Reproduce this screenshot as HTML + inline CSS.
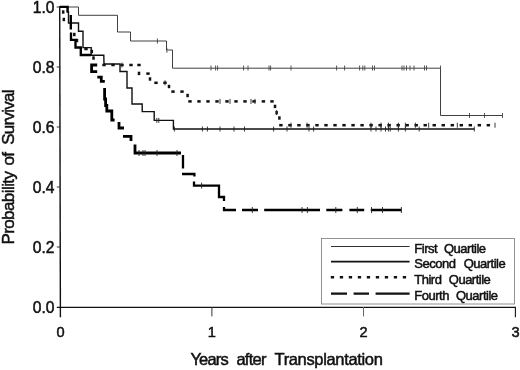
<!DOCTYPE html>
<html><head><meta charset="utf-8"><title>Probability of Survival by Quartile</title>
<style>html,body{margin:0;padding:0;background:#fff;}svg{display:block;}</style>
</head><body>
<svg width="520" height="370" viewBox="0 0 520 370">
<rect width="520" height="370" fill="#fff"/>
<g stroke="#111" fill="none">
<path d="M59.7,6L60.4,317.2" stroke-width="1.4"/>
<path d="M56.8,307.3H515.9" stroke-width="1.3"/>
<path d="M56.6,7H60 M56.7,67H60 M56.8,127H60 M56.8,187H60 M56.8,247H60" stroke-width="1" stroke="#333"/>
<path d="M211.9,307V316.4" stroke-width="1" stroke="#333"/><path d="M363.5,307V316.4" stroke-width="1" stroke="#666"/><path d="M515.4,307V317.2" stroke-width="1.1" stroke="#111"/>
</g>
<rect x="321.5" y="238.4" width="193.1" height="65.6" fill="#fff" stroke="#777" stroke-width="0.8"/>
<g stroke="#111" fill="none">
<path d="M331,246.5H409.6" stroke-width="1" stroke="#333"/>
<path d="M331,261.7H409.6" stroke-width="1.75"/>
<path d="M330.8,277.2H409" stroke-width="2.4" stroke-dasharray="3.3 5.7"/>
<path d="M331,293.5H347 M353.6,293.5H369 M375.6,293.5H409.6" stroke-width="2.25"/>
</g>
<path d="M60,7 L78.5,7 L78.5,15.3 L117.5,15.3 L117.5,32 L130.5,32 L130.5,41 L166.5,41 L166.5,50 L172.5,50 L172.5,68.2 L440.5,68.2 L440.5,115.5 L502.5,115.5" fill="none" stroke="#2a2a2a" stroke-width="0.9"/>
<path d="M157.4,38.5V43.5 M166.9,47.8V52.8 M211,65.5V70.5 M215.6,65.5V70.5 M217.6,65.5V70.5 M243.6,65.5V70.5 M248,65.5V70.5 M269,65.5V70.5 M270.6,65.5V70.5 M291,65.5V70.5 M336.6,65.5V70.5 M344.6,65.5V70.5 M359.6,65.5V70.5 M362.8,65.5V70.5 M364.8,65.5V70.5 M372.5,65.5V70.5 M374.5,65.5V70.5 M402,65.5V70.5 M404,65.5V70.5 M406.5,65.5V70.5 M410,65.5V70.5 M414,65.5V70.5 M424.5,65.5V70.5 M426.5,65.5V70.5 M440.5,65.5V70.5 M469.5,113V118 M484.5,113V118 M502.5,113V118" fill="none" stroke="#444" stroke-width="0.9"/>
<path d="M60,6.8 L67.5,6.8 L67.5,12 L68.5,12 L68.5,23 L78.5,23 L78.5,31.2 L83,31.2 L83,47.6 L91.2,47.6 L91.2,55.2 L103.8,55.2 L104,64 L120,64 L120,71.5 L127,71.5 L127,88 L132,88 L132,104 L142.2,104 L142.2,111.6 L154.2,111.6 L154.2,120.4 L173.4,120.4 L173.4,129 L474.3,129" fill="none" stroke="#111" stroke-width="1.4"/>
<path d="M156.8,117.9V122.9 M158.8,117.9V122.9 M174.4,126.5V131.5 M202.4,126.5V131.5 M207.4,126.5V131.5 M220,126.5V131.5 M234,126.5V131.5 M244.5,126.5V131.5 M273.6,126.5V131.5 M287,126.5V131.5 M309,126.5V131.5 M313.6,126.5V131.5 M371,126.5V131.5 M376,126.5V131.5 M381,126.5V131.5 M385.5,126.5V131.5 M388.4,126.5V131.5 M390.2,126.5V131.5 M398.4,126.5V131.5 M405.4,126.5V131.5 M419.2,126.5V131.5 M474.3,126.5V131.5" fill="none" stroke="#222" stroke-width="0.9"/>
<g fill="#111">
<rect x="61.95" y="10.3" width="2.5" height="3.4"/>
<rect x="62.55" y="17.8" width="2.5" height="3.4"/>
<rect x="73.05" y="32.8" width="2.5" height="3.4"/>
<rect x="75.75" y="38.8" width="2.5" height="3.4"/>
<rect x="84.3" y="47.75" width="3.4" height="2.5"/>
<rect x="90.55" y="49.8" width="2.5" height="3.4"/>
<rect x="92.25" y="56.3" width="2.5" height="3.4"/>
<rect x="102.3" y="63.75" width="3.4" height="2.5"/>
<rect x="111.3" y="63.75" width="3.4" height="2.5"/>
<rect x="120.3" y="63.75" width="3.4" height="2.5"/>
<rect x="129.3" y="63.75" width="3.4" height="2.5"/>
<rect x="137.3" y="63.75" width="3.4" height="2.5"/>
<rect x="137.75" y="71.7" width="2.5" height="3.4"/>
<rect x="146.3" y="72.35" width="3.4" height="2.5"/>
<rect x="148.75" y="77.3" width="2.5" height="3.4"/>
<rect x="154.3" y="81.55" width="3.4" height="2.5"/>
<rect x="163.3" y="81.55" width="3.4" height="2.5"/>
<rect x="167.75" y="84.8" width="2.5" height="3.4"/>
<rect x="171.3" y="90.35" width="3.4" height="2.5"/>
<rect x="180.3" y="90.35" width="3.4" height="2.5"/>
<rect x="186.35" y="93.8" width="2.5" height="3.4"/>
<rect x="188.3" y="100.15" width="3.4" height="2.5"/>
<rect x="197.3" y="100.15" width="3.4" height="2.5"/>
<rect x="206.3" y="100.15" width="3.4" height="2.5"/>
<rect x="215.3" y="100.15" width="3.4" height="2.5"/>
<rect x="225.3" y="100.15" width="3.4" height="2.5"/>
<rect x="234.3" y="100.15" width="3.4" height="2.5"/>
<rect x="243.3" y="100.15" width="3.4" height="2.5"/>
<rect x="252.3" y="100.15" width="3.4" height="2.5"/>
<rect x="261.7" y="100.15" width="3.4" height="2.5"/>
<rect x="270.3" y="100.15" width="3.4" height="2.5"/>
<rect x="273.75" y="104.7" width="2.5" height="3.4"/>
<rect x="275.35" y="110.9" width="2.5" height="3.4"/>
<rect x="278.15" y="116.3" width="2.5" height="3.4"/>
<rect x="279.2" y="123.95" width="3.4" height="2.5"/>
<rect x="288.22" y="123.95" width="3.4" height="2.5"/>
<rect x="297.24" y="123.95" width="3.4" height="2.5"/>
<rect x="306.26" y="123.95" width="3.4" height="2.5"/>
<rect x="315.28" y="123.95" width="3.4" height="2.5"/>
<rect x="324.3" y="123.95" width="3.4" height="2.5"/>
<rect x="333.32" y="123.95" width="3.4" height="2.5"/>
<rect x="342.34" y="123.95" width="3.4" height="2.5"/>
<rect x="351.36" y="123.95" width="3.4" height="2.5"/>
<rect x="360.38" y="123.95" width="3.4" height="2.5"/>
<rect x="369.4" y="123.95" width="3.4" height="2.5"/>
<rect x="378.42" y="123.95" width="3.4" height="2.5"/>
<rect x="387.44" y="123.95" width="3.4" height="2.5"/>
<rect x="396.46" y="123.95" width="3.4" height="2.5"/>
<rect x="405.48" y="123.95" width="3.4" height="2.5"/>
<rect x="414.5" y="123.95" width="3.4" height="2.5"/>
<rect x="423.52" y="123.95" width="3.4" height="2.5"/>
<rect x="432.54" y="123.95" width="3.4" height="2.5"/>
<rect x="441.56" y="123.95" width="3.4" height="2.5"/>
<rect x="450.58" y="123.95" width="3.4" height="2.5"/>
<rect x="459.6" y="123.95" width="3.4" height="2.5"/>
<rect x="468.62" y="123.95" width="3.4" height="2.5"/>
<rect x="477.64" y="123.95" width="3.4" height="2.5"/>
<rect x="486.66" y="123.95" width="3.4" height="2.5"/>
</g>
<path d="M122,62.5V67.5 M165,80.3V85.3 M220,98.9V103.9 M230,98.9V103.9 M251,98.9V103.9 M255,98.9V103.9 M276.6,110.1V115.1 M291,122.7V127.7 M307,122.7V127.7 M371,122.7V127.7 M381,122.7V127.7 M388.4,122.7V127.7 M398.4,122.7V127.7 M405.4,122.7V127.7 M415.4,122.7V127.7 M428.7,122.7V127.7 M457.3,122.7V127.7 M495,122.7V127.7" fill="none" stroke="#222" stroke-width="0.9"/>
<path d="M60,6.8 L67.6,6.8 L67.6,12.5 M70.8,15 L70.8,29.5 M71,32.5 L71,39.8 L75.5,39.8 L75.5,47.5 L80.8,47.5 L80.8,55 L91,55" fill="none" stroke="#000" stroke-width="2.35" stroke-linejoin="miter"/>
<path d="M97.2,65 L91.6,65 L91.6,71.6 L97.2,71.6 M97.3,77.2 L101.3,77.2 L101.3,81.4 L104.8,81.4 M104.6,88 L104.6,99 L105.6,99 L105.6,105.5 L106.8,105.5 L106.8,111 L111.8,111 L111.8,120 L114.6,120 M119,122 L119,128 L124,128 M123,136.4 L131,136.4 L131,141 M135,144.4 L135,153 L181,153" fill="none" stroke="#000" stroke-width="2.8" stroke-linejoin="miter"/>
<path d="M183,155 L183,168.5 M182,174 L194.4,174 L194.4,176.5 M194,181.6 L194,185.6 L219,185.6 L219,197 L224,197 L224,201 M224,207 L224,210 L236,210 M242,210 L258,210 M264.2,210 L320,210 M326.3,210 L342.4,210 M349.4,210 L364.2,210 M370.8,210 L401.4,210" fill="none" stroke="#000" stroke-width="2.3" stroke-linejoin="miter"/>
<path d="M139,150V156 M143,150V156 M145,150V156 M157,150V156 M177,150V156 M201.6,182.6V188.6 M252.3,207V213 M302,207V213 M307.4,207V213 M335.8,207V213 M357.3,207V213 M371.5,207V213 M382.5,207V213 M401.4,207V213" fill="none" stroke="#222" stroke-width="0.9"/>
<g font-family="'Liberation Sans', sans-serif" fill="#111" stroke="#111" stroke-width="0.5">
<text id="y1.0" x="54.5" y="13.4" font-size="15.6" text-anchor="end">1.0</text>
<text id="y0.8" x="54.5" y="73.4" font-size="15.6" text-anchor="end">0.8</text>
<text id="y0.6" x="54.5" y="133.4" font-size="15.6" text-anchor="end">0.6</text>
<text id="y0.4" x="54.5" y="193.4" font-size="15.6" text-anchor="end">0.4</text>
<text id="y0.2" x="54.5" y="253.4" font-size="15.6" text-anchor="end">0.2</text>
<text id="y0.0" x="54.5" y="313.4" font-size="15.6" text-anchor="end">0.0</text>
<text id="x0" x="60.5" y="336.6" font-size="14.6" text-anchor="middle">0</text>
<text id="x1" x="211.8" y="336.6" font-size="14.6" text-anchor="middle">1</text>
<text id="x2" x="363.5" y="336.6" font-size="14.6" text-anchor="middle">2</text>
<text id="x3" x="515.6" y="336.6" font-size="14.6" text-anchor="middle">3</text>
<text id="xl0" x="190.4" y="365.2" font-size="16.5" letter-spacing="-0.8">Years</text>
<text id="xl1" x="236.4" y="365.2" font-size="16.5" letter-spacing="-0.72">after</text>
<text id="xl2" x="274.5" y="365.2" font-size="16.5" letter-spacing="-0.34">Transplantation</text>
<text id="yl0" transform="translate(14.1,244.6) rotate(-90)" font-size="17" letter-spacing="-0.58">Probability</text>
<text id="yl1" transform="translate(14.1,165.4) rotate(-90)" font-size="17" letter-spacing="-0.8">of</text>
<text id="yl2" transform="translate(14.1,144.8) rotate(-90)" font-size="17" letter-spacing="-0.75">Survival</text>
<text id="l0" x="414.3" y="252.5" font-size="13" letter-spacing="-0.5">First</text>
<text id="q0" x="444.0" y="252.5" font-size="13" letter-spacing="-0.5">Quartile</text>
<text id="l1" x="414.3" y="268.2" font-size="13" letter-spacing="-0.5">Second</text>
<text id="q1" x="463.7" y="268.2" font-size="13" letter-spacing="-0.5">Quartile</text>
<text id="l2" x="414.3" y="283.9" font-size="13" letter-spacing="-0.5">Third</text>
<text id="q2" x="448.8" y="283.9" font-size="13" letter-spacing="-0.5">Quartile</text>
<text id="l3" x="414.3" y="299.6" font-size="13" letter-spacing="-0.5">Fourth</text>
<text id="q3" x="456.0" y="299.6" font-size="13" letter-spacing="-0.5">Quartile</text>
</g>
</svg>
</body></html>
